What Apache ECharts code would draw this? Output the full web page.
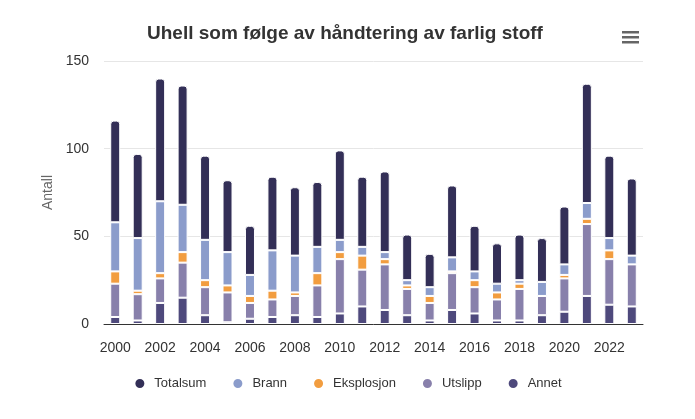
<!DOCTYPE html>
<html>
<head>
<meta charset="utf-8">
<script src="https://cdn.jsdelivr.net/npm/echarts@6/dist/echarts.min.js"></script>
<style>
html,body{margin:0;padding:0;background:#fff;}
#c{width:695px;height:419px;}
</style>
</head>
<body>
<div id="c"></div>
<script>
const years = ['2000','2001','2002','2003','2004','2005','2006','2007','2008','2009','2010','2011','2012','2013','2014','2015','2016','2017','2018','2019','2020','2021','2022','2023'];
const annet      = [4, 2, 12, 15, 5, 1, 3, 4, 5, 4, 6, 10, 8, 5, 2, 8, 6, 2, 2, 5, 7, 16, 11, 10];
const utslipp    = [19, 15, 14, 20, 16, 17, 9, 10, 11, 18, 31, 21, 26, 15, 10, 21, 15, 12, 18, 11, 19, 41, 26, 24];
const eksplosjon = [7, 2, 3, 6, 4, 4, 4, 5, 2, 7, 4, 8, 3, 2, 4, 1, 4, 4, 3, 0, 2, 3, 5, 0];
const brann      = [28, 30, 41, 27, 23, 19, 12, 23, 21, 15, 7, 5, 4, 3, 5, 8, 5, 5, 2, 8, 6, 9, 7, 5];
const totalsum   = [58, 48, 70, 68, 48, 41, 28, 42, 39, 37, 51, 40, 46, 26, 19, 41, 26, 23, 26, 25, 33, 68, 47, 44];
const yTicks = [0, 50, 100, 150];

const FONT = 'Liberation Sans, Arial, sans-serif';
const colors = {
  Totalsum: '#332f57',
  Brann: '#8b9ccb',
  Eksplosjon: '#f29d3f',
  Utslipp: '#8880ab',
  Annet: '#4e497c'
};

function bar(name, data, top) {
  return {
    name: name,
    type: 'bar',
    stack: 'total',
    barWidth: 10,
    data: data,
    itemStyle: {
      color: colors[name],
      borderColor: '#ffffff',
      borderWidth: 1,
      borderRadius: top ? [3, 3, 0, 0] : 0
    },
    emphasis: { disabled: true }
  };
}

const chart = echarts.init(document.getElementById('c'), null, { renderer: 'canvas' });
chart.setOption({
  animation: false,
  backgroundColor: '#ffffff',
  textStyle: { fontFamily: FONT },
  title: {
    text: 'Uhell som følge av håndtering av farlig stoff',
    left: 142,
    top: 19,
    textStyle: { fontFamily: FONT, fontSize: 19, fontWeight: 'bold', color: '#333333' }
  },
  graphic: [
    { type: 'rect', left: 622, top: 31, shape: { width: 17, height: 2.5 }, style: { fill: '#666666' } },
    { type: 'rect', left: 622, top: 36, shape: { width: 17, height: 2.5 }, style: { fill: '#666666' } },
    { type: 'rect', left: 622, top: 41, shape: { width: 17, height: 2.5 }, style: { fill: '#666666' } }
  ],
  legend: {
    data: ['Totalsum', 'Brann', 'Eksplosjon', 'Utslipp', 'Annet'],
    left: 'center',
    top: 372,
    icon: 'circle',
    itemWidth: 11,
    itemHeight: 11,
    itemGap: 25,
    textStyle: { fontFamily: FONT, fontSize: 13, color: '#333333', padding: [0, 0, 0, 4] }
  },
  grid: { left: 104, right: 52, top: 61, bottom: 95 },
  xAxis: {
    type: 'category',
    data: years,
    axisLine: { lineStyle: { color: '#333333', width: 1 } },
    axisTick: { show: false },
    axisLabel: { interval: 1, fontSize: 14, color: '#333333', margin: 17, fontFamily: FONT }
  },
  yAxis: {
    type: 'value',
    min: yTicks[0],
    max: yTicks[yTicks.length - 1],
    interval: 50,
    name: 'Antall',
    nameLocation: 'middle',
    nameGap: 45,
    nameTextStyle: { fontSize: 14, color: '#666666', fontFamily: FONT },
    axisLine: { show: false },
    axisTick: { show: false },
    axisLabel: { fontSize: 14, color: '#333333', margin: 15, fontFamily: FONT },
    splitLine: { lineStyle: { color: '#e6e6e6', width: 1 } }
  },
  series: [
    bar('Annet', annet, false),
    bar('Utslipp', utslipp, false),
    bar('Eksplosjon', eksplosjon, false),
    bar('Brann', brann, false),
    bar('Totalsum', totalsum, true)
  ]
});
</script>
</body>
</html>
